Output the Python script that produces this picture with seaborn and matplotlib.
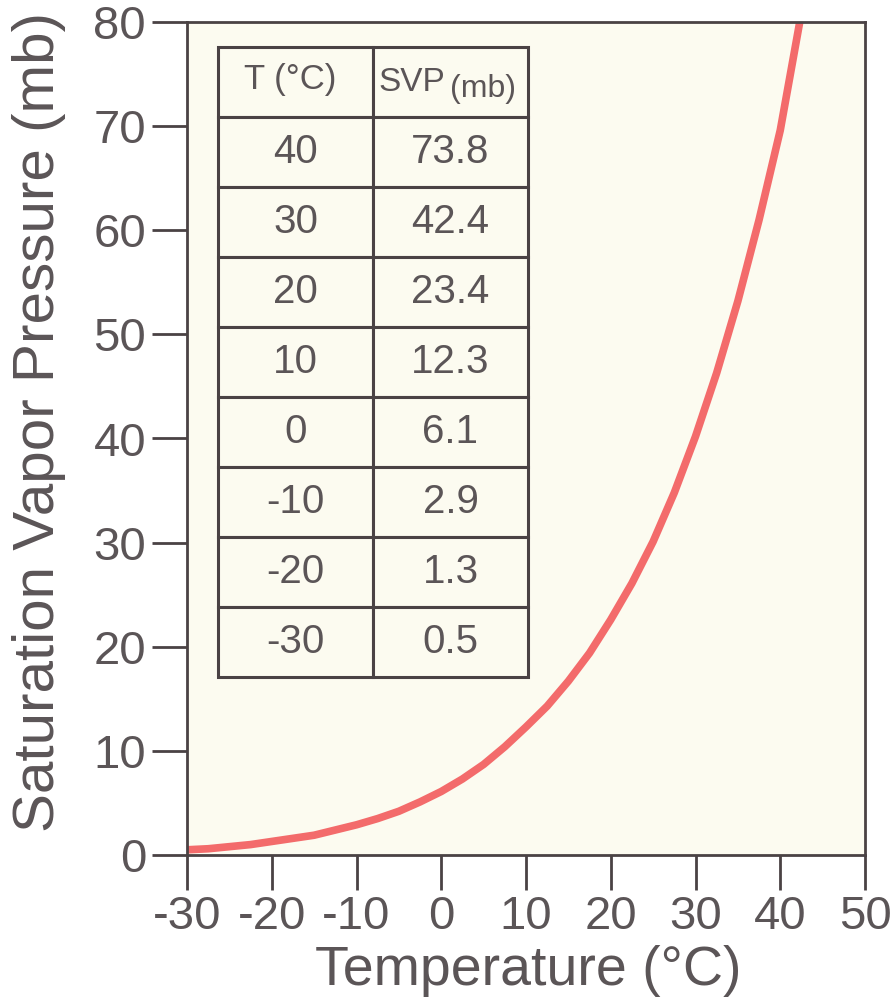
import matplotlib
matplotlib.use("Agg")
import matplotlib.pyplot as plt
import seaborn as sns
import pandas as pd

# Curve values
temps = [-30, -27.5, -25, -22.5, -20, -17.5, -15, -12.5, -10, -7.5, -5, -2.5, 0,
         2.5, 5, 7.5, 10, 12.5, 15, 17.5, 20, 22.5, 25, 27.5, 30, 32.5, 35,
         37.5, 40, 42.3]
svp = [0.5, 0.6, 0.8, 1.0, 1.3, 1.6, 1.9, 2.4, 2.9, 3.5, 4.2, 5.1, 6.1,
       7.3, 8.7, 10.4, 12.3, 14.3, 16.7, 19.4, 22.6, 26.1, 30.1, 34.8, 40.2,
       46.3, 53.2, 61.0, 69.6, 80.0]

# Table values
table_t = ["40", "30", "20", "10", "0", "-10", "-20", "-30"]
table_svp = ["73.8", "42.4", "23.4", "12.3", "6.1", "2.9", "1.3", "0.5"]

x_ticks = [-30, -20, -10, 0, 10, 20, 30, 40, 50]
y_ticks = [0, 10, 20, 30, 40, 50, 60, 70, 80]

sns.set_theme(style="ticks")
plt.rcParams['font.family'] = ['Liberation Sans', 'DejaVu Sans']

text_col = "#5b5557"
edge_col = "#4a4244"
bg_col = "#fcfbf0"
line_col = "#f36b6b"

fig = plt.figure(figsize=(8.93, 10.01), dpi=100)
L, R, T, B = 187, 865, 22, 855
ax = fig.add_axes([L/893, 1 - B/1001, (R-L)/893, (B-T)/1001])
ax.set_facecolor(bg_col)

df = pd.DataFrame({"T": temps, "SVP": svp})
sns.lineplot(data=df, x="T", y="SVP", ax=ax, color=line_col, linewidth=5.5,
             solid_capstyle="butt", clip_on=True)

ax.set_xlim(-30, 50)
ax.set_ylim(0, 80)
ax.set_xticks(x_ticks)
ax.set_yticks(y_ticks)
ax.set_xticklabels([str(v) for v in x_ticks])
ax.set_yticklabels([str(v) for v in y_ticks])
ax.tick_params(axis="both", direction="out", length=25.5, width=2.0,
               color=edge_col, labelcolor=text_col, labelsize=34)
ax.tick_params(axis="x", pad=3)
ax.tick_params(axis="y", pad=4)
for s in ax.spines.values():
    s.set_visible(True)
    s.set_color(edge_col)
    s.set_linewidth(2.0)

ax_w, ax_h = R - L, B - T
ax.set_xlabel("Temperature (°C)", fontsize=40, color=text_col)
ax.xaxis.set_label_coords((528 - L) / ax_w, (B - 945) / ax_h)
ax.set_ylabel("Saturation Vapor Pressure (mb)", fontsize=42, color=text_col)
ax.yaxis.set_label_coords((66 - L) / ax_w, (B - 422) / ax_h)

# Table
cell_text = [["", ""]] + [[a, b] for a, b in zip(table_t, table_svp)]
bx0 = (218 - L) / ax_w
bx1 = (528 - L) / ax_w
by_top = (B - 47) / ax_h
by_bot = (B - 677) / ax_h
tbl = ax.table(cellText=cell_text, cellLoc="center",
               bbox=[bx0, by_bot, bx1 - bx0, by_top - by_bot])
tbl.auto_set_font_size(False)
for (r, c), cell in tbl.get_celld().items():
    cell.set_facecolor(bg_col)
    cell.set_edgecolor(edge_col)
    cell.set_linewidth(2.2)
    cell.get_text().set_fontsize(29)
    cell.get_text().set_color(text_col)

ax.text((290 - L) / ax_w, (B - 89) / ax_h, "T (°C)", transform=ax.transAxes,
        ha="center", va="baseline", fontsize=25, color=text_col)
ax.text((378 - L) / ax_w, (B - 91) / ax_h, "SVP", transform=ax.transAxes,
        ha="left", va="baseline", fontsize=24, color=text_col)
ax.text((450 - L) / ax_w, (B - 97) / ax_h, "(mb)", transform=ax.transAxes,
        ha="left", va="baseline", fontsize=23, color=text_col)

fig.savefig("out.png", dpi=100, facecolor="white")
